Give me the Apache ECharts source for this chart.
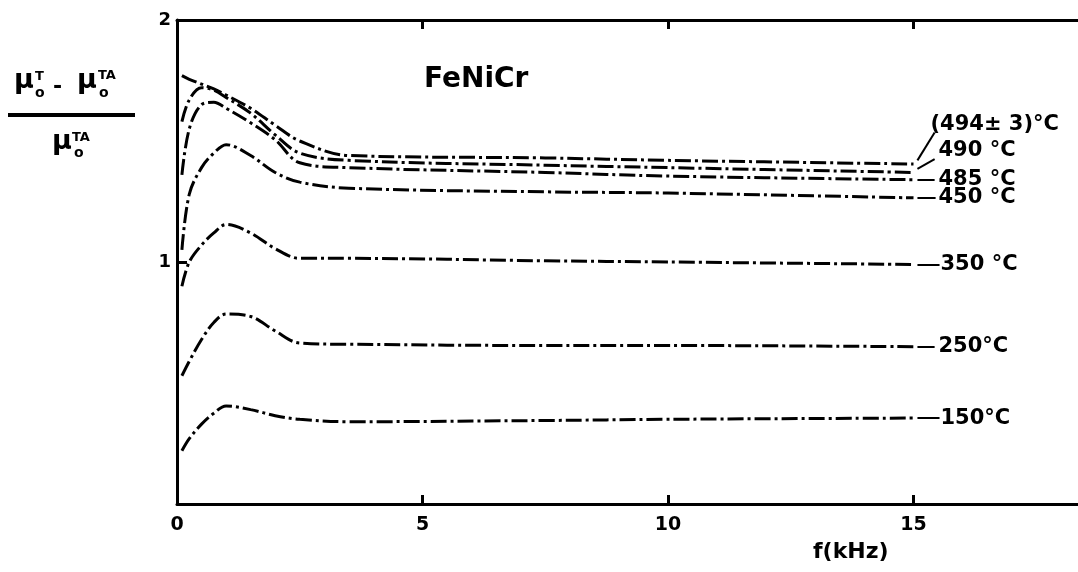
<!DOCTYPE html>
<html>
<head>
    <meta charset="UTF-8">
    <title>FeNiCr</title>
    <script src="https://cdn.jsdelivr.net/npm/echarts@6/dist/echarts.min.js"></script>
</head>
<body style="margin:0;background:#fff;">
<div id="chart" style="width:1078px;height:572px;"></div>
<script type="text/javascript">

    // f (kHz) where the curves were read
    var freq = [0.1, 0.25, 0.5, 0.75, 1.0, 1.5, 2.0, 2.5, 3.5, 7.5, 10, 15];

    // (mu_T - mu_TA) / mu_TA, one list per annealing temperature
    var t494 = [1.77, 1.755, 1.735, 1.715, 1.69, 1.635, 1.565, 1.50, 1.44, 1.43, 1.42, 1.405];
    var t490 = [1.58, 1.67, 1.72, 1.71, 1.68, 1.615, 1.525, 1.45, 1.42, 1.40, 1.39, 1.37];
    var t485 = [1.36, 1.55, 1.65, 1.66, 1.635, 1.575, 1.505, 1.41, 1.39, 1.37, 1.355, 1.34];
    var t450 = [1.05, 1.28, 1.39, 1.45, 1.485, 1.44, 1.37, 1.33, 1.305, 1.29, 1.285, 1.265];
    var t350 = [0.90, 1.00, 1.07, 1.12, 1.155, 1.12, 1.055, 1.015, 1.015, 1.005, 1.0, 0.99];
    var t250 = [0.53, 0.59, 0.68, 0.75, 0.785, 0.775, 0.715, 0.665, 0.66, 0.655, 0.655, 0.65];
    var t150 = [0.22, 0.27, 0.33, 0.375, 0.405, 0.39, 0.365, 0.35, 0.34, 0.345, 0.35, 0.355];

    var labels = ['(494± 3)°C', '490 °C', '485 °C', '450 °C', '350 °C', '250°C', '150°C'];
    var curves = [t494, t490, t485, t450, t350, t250, t150];

    var xTicks = [5, 10, 15];
    var xLabels = [0, 5, 10, 15];

    var font = 'DejaVu Sans';

    function pairs(vals) {
        return freq.map(function (f, i) {
            return [f, vals[i]];
        });
    }

    // label placement next to the last point: [dx, dy] px, leader end [dx, dy] in data units
    var labelPos = [[17, -39], [25, -22], [25, 0], [25, 0], [27, 0], [25, 0], [27, 0]];
    var leader = [[0.35, 0.13], [0.35, 0.055], [0.35, 0], [0.37, 0], [0.45, 0], [0.35, 0], [0.45, 0]];

    var series = curves.map(function (vals, k) {
        var last = vals[vals.length - 1];
        return {
            name: labels[k],
            type: 'line',
            data: pairs(vals),
            smooth: 0.35,
            symbol: 'none',
            lineStyle: {color: '#000', width: 3, type: [16, 4, 3, 4]},
            endLabel: {
                show: true,
                formatter: labels[k],
                distance: 0,
                offset: labelPos[k],
                align: 'left',
                verticalAlign: 'middle',
                color: '#000',
                fontFamily: font,
                fontWeight: 'bold',
                fontSize: 21
            },
            markLine: {
                silent: true,
                symbol: ['none', 'none'],
                animation: false,
                label: {show: false},
                lineStyle: {color: '#000', width: 2, type: 'solid'},
                data: [[
                    {coord: [15.08, last + (leader[k][1] ? 0.015 : 0)]},
                    {coord: [15 + leader[k][0] + 0.08, last + leader[k][1]]}
                ]]
            }
        };
    });

    var myChart = echarts.init(document.getElementById('chart'));

    myChart.setOption({
        animation: false,
        backgroundColor: '#fff',
        grid: {left: 177, right: 0, top: 20, bottom: 68},
        xAxis: [
            {
                type: 'value', min: 0, max: 18.35, interval: 5,
                axisLine: {lineStyle: {color: '#000', width: 3}},
                axisTick: {inside: true, length: 9, customValues: xTicks, lineStyle: {color: '#000', width: 3}},
                axisLabel: {
                    color: '#000', fontFamily: font, fontWeight: 'bold', fontSize: 19, margin: 12,
                    customValues: xLabels
                },
                splitLine: {show: false}
            },
            {
                type: 'value', position: 'top', min: 0, max: 18.35, interval: 5,
                axisLine: {lineStyle: {color: '#000', width: 3}},
                axisTick: {inside: true, length: 9, customValues: xTicks, lineStyle: {color: '#000', width: 3}},
                axisLabel: {show: false},
                splitLine: {show: false}
            }
        ],
        yAxis: {
            type: 'value', min: 0, max: 2, interval: 1,
            axisLine: {show: true, lineStyle: {color: '#000', width: 3}},
            axisTick: {show: true, inside: true, length: 10, lineStyle: {color: '#000', width: 3}},
            axisLabel: {
                color: '#000', fontFamily: font, fontWeight: 'bold', fontSize: 18, margin: 6,
                formatter: function (v) {
                    return v === 0 ? '' : v;
                }
            },
            splitLine: {show: false}
        },
        graphic: [
            {type: 'text', left: 424, top: 66, style: {text: 'FeNiCr', font: 'bold 28px DejaVu Sans', fill: '#000'}},
            {type: 'text', left: 813, top: 541, style: {text: 'f(kHz)', font: 'bold 22px DejaVu Sans', fill: '#000'}},
            // y axis title: fraction
            {type: 'text', x: 14, y: 67, style: {text: 'μ', font: 'bold 27px DejaVu Sans', fill: '#000'}},
            {type: 'text', x: 35, y: 70, style: {text: 'T', font: 'bold 13px DejaVu Sans', fill: '#000'}},
            {type: 'text', x: 35, y: 86, style: {text: 'o', font: 'bold 14px DejaVu Sans', fill: '#000'}},
            {type: 'text', x: 53, y: 76, style: {text: '-', font: 'bold 22px DejaVu Sans', fill: '#000'}},
            {type: 'text', x: 77, y: 67, style: {text: 'μ', font: 'bold 27px DejaVu Sans', fill: '#000'}},
            {type: 'text', x: 98, y: 69, style: {text: 'TA', font: 'bold 13px DejaVu Sans', fill: '#000'}},
            {type: 'text', x: 99, y: 86, style: {text: 'o', font: 'bold 14px DejaVu Sans', fill: '#000'}},
            {type: 'rect', shape: {x: 8, y: 113, width: 127, height: 4}, style: {fill: '#000'}},
            {type: 'text', x: 52, y: 128, style: {text: 'μ', font: 'bold 27px DejaVu Sans', fill: '#000'}},
            {type: 'text', x: 72, y: 131, style: {text: 'TA', font: 'bold 13px DejaVu Sans', fill: '#000'}},
            {type: 'text', x: 74, y: 146, style: {text: 'o', font: 'bold 14px DejaVu Sans', fill: '#000'}}
        ],
        series: series
    });
</script>
</body>
</html>
